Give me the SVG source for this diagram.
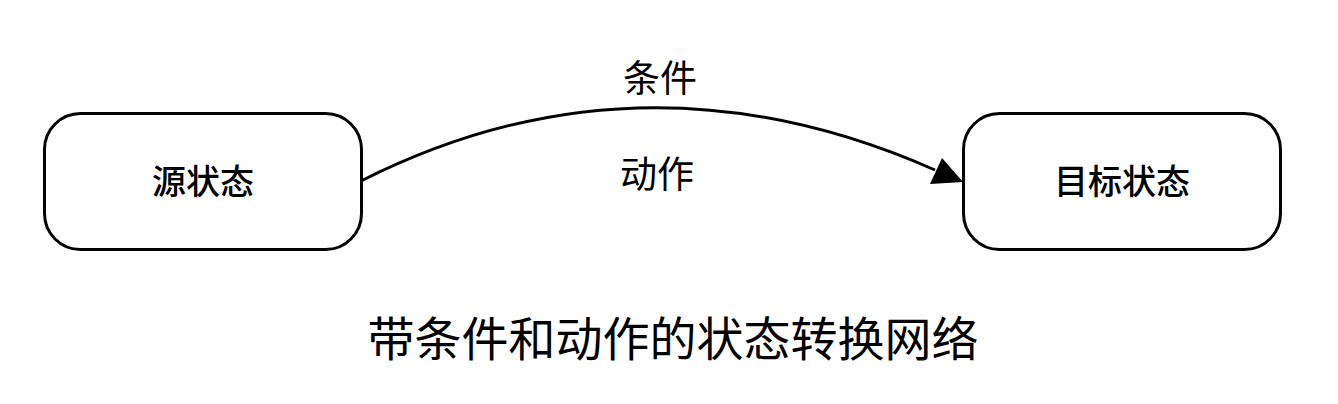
<svg xmlns="http://www.w3.org/2000/svg" width="1338" height="404" viewBox="0 0 1338 404">
<style>
.node{fill:#fff;stroke:#000;stroke-width:3}
.t{font-family:"Liberation Serif","Noto Sans CJK SC",serif;fill:#000;text-anchor:middle}
.nl{font-size:34px;font-weight:500}
.el{font-size:37px}
.title{font-size:47px}
.edge{fill:none;stroke:#000;stroke-width:3}
</style>
<rect width="1338" height="404" fill="#fff"/>
<g id="connectors">
<path class="edge" d="M361,181 Q640,40 935,170"/>
<polygon points="963,182 930,184 942,158" fill="#000"/>
</g>
<g id="src">
<rect class="node" x="44.5" y="113.5" width="317" height="136" rx="36" ry="36"/>
<text class="t nl" x="203" y="194">源状态</text>
</g>
<g id="dst">
<rect class="node" x="963.5" y="113.5" width="317" height="136" rx="36" ry="36"/>
<text class="t nl" x="1122" y="194">目标状态</text>
</g>
<g id="labels">
<text class="t el" x="660" y="92">条件</text>
<text class="t el" x="657" y="188">动作</text>
<text class="t title" x="673" y="356">带条件和动作的状态转换网络</text>
</g>
</svg>
